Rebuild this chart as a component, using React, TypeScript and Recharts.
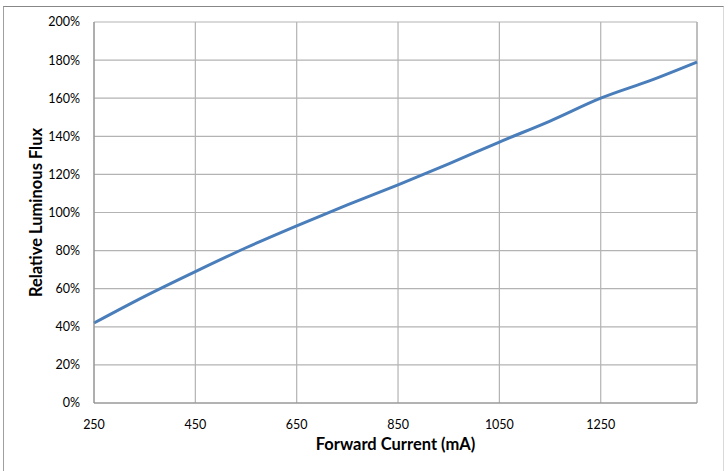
import { LineChart, Line, XAxis, YAxis, CartesianGrid, ReferenceLine } from "recharts";

// forward current (mA) and relative luminous flux (%)
const currents = [250, 350, 450, 550, 650, 750, 850, 950, 1050, 1150, 1250, 1350, 1440];
const flux = [42, 56, 69, 81.5, 93, 104, 114.5, 125.5, 137, 148, 160, 169.5, 179];
const xTicks = [250, 450, 650, 850, 1050, 1250];
const yTicks = [0, 20, 40, 60, 80, 100, 120, 140, 160, 180, 200];

const data = currents.map((c, i) => ({ current: c, flux: flux[i] }));

const font = "Lato, 'Open Sans', sans-serif";

export default function App() {
  return (
    <div style={{ position: "absolute", left: 0, top: 0, width: 728, height: 471, background: "#fff", fontFamily: font }}>
      <div
        style={{
          position: "absolute",
          left: 3,
          top: 6,
          width: 719,
          height: 470,
          borderTop: "1px solid #878787",
          borderLeft: "1px solid #a0a0a0",
          borderRight: "1px solid #d9d9d9",
        }}
      />
      <div style={{ position: "absolute", left: 0, top: 0 }}>
        <LineChart width={728} height={471} data={data} margin={{ top: 22, right: 31, left: 34, bottom: 19 }}>
          <CartesianGrid stroke="#b3b3b3" strokeWidth={1.2} />
          <XAxis
            dataKey="current"
            type="number"
            domain={[250, 1440]}
            ticks={xTicks}
            tickLine={false}
            tickSize={0}
            tickMargin={17}
            height={49}
            stroke="#8c8c8c"
            tick={{ fill: "#000", fontSize: 12.5, fontFamily: font }}
            label={{
              value: "Forward Current (mA)",
              position: "insideBottom",
              offset: 2,
              style: { fill: "#000", fontSize: 16.5, fontWeight: 700, fontFamily: font },
            }}
          />
          <YAxis
            type="number"
            domain={[0, 200]}
            ticks={yTicks}
            tickFormatter={(v) => `${v}%`}
            tickLine={false}
            tickSize={0}
            tickMargin={14}
            width={60}
            stroke="#8c8c8c"
            tick={{ fill: "#000", fontSize: 12.5, fontFamily: font }}
            label={{
              value: "Relative Luminous Flux",
              angle: -90,
              position: "insideLeft",
              offset: 2,
              style: { textAnchor: "middle", fill: "#000", fontSize: 16.5, fontWeight: 700, fontFamily: font },
            }}
          />
          <ReferenceLine x={1440} stroke="#b3b3b3" strokeWidth={1.2} />
          <Line
            type="monotone"
            dataKey="flux"
            stroke="#4a7ebb"
            strokeWidth={3}
            dot={false}
            isAnimationActive={false}
          />
        </LineChart>
      </div>
    </div>
  );
}
